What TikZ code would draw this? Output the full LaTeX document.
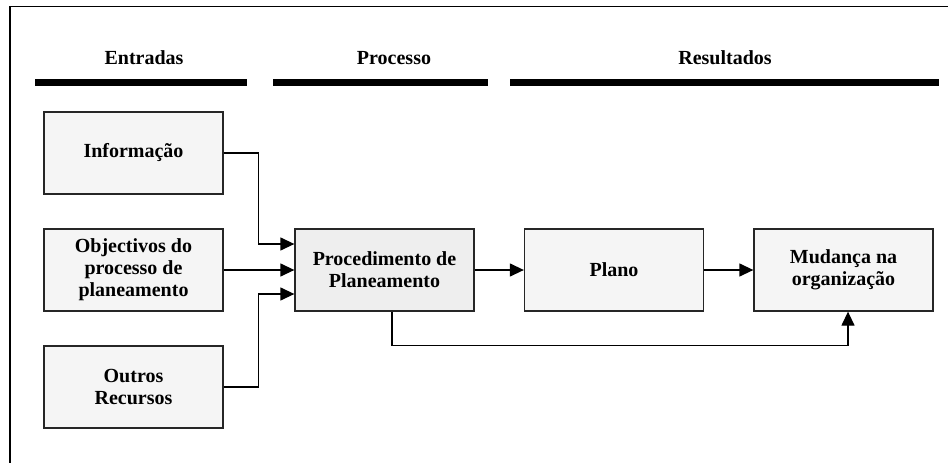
\documentclass[tikz,border=0pt]{standalone}
\usepackage{fontspec}
\setmainfont{Liberation Serif}
\usetikzlibrary{arrows.meta}
\definecolor{boxfill}{HTML}{F5F5F5}
\definecolor{procfill}{HTML}{EEEEEE}
\tikzset{
  stagebox/.style={draw=black!85, line width=1.3pt, fill=boxfill, minimum width=179pt,
    minimum height=82pt, inner sep=0pt, align=center, font=\fontsize{20}{22}\selectfont\bfseries},
  header/.style={font=\fontsize{20}{22}\selectfont\bfseries},
  bar/.style={line width=7pt},
  link/.style={line width=1.3pt, -{Triangle[length=14pt,width=13pt]}},
  frame/.style={line width=1.3pt}
}
\begin{document}
\begin{tikzpicture}[x=1pt,y=-1pt]
\useasboundingbox (0,0) rectangle (948,463);
% open frame: top and left edges
\draw[frame] (948,6.5) -- (10,6.5) -- (10,463);
% column headings and bars
\node[header] (hin) at (144,58) {Entradas};
\node[header] (hproc) at (394,58) {Processo};
\node[header] (hres) at (725,58) {Resultados};
\draw[bar] (35,82) -- (247,82);
\draw[bar] (273,82) -- (488,82);
\draw[bar] (510,82) -- (939,82);
% boxes
\node[stagebox] (info) at (133.5,153) {Informação};
\node[stagebox] (obj) at (133.5,270) {Objectivos do\\processo de\\planeamento};
\node[stagebox] (outros) at (133.5,387) {Outros\\Recursos};
\node[stagebox, fill=procfill] (proc) at (384.5,270) {Procedimento de\\Planeamento};
\node[stagebox] (plano) at (614,270) {Plano};
\node[stagebox] (mud) at (843.5,270) {Mudança na\\organização};
% connectors
\draw[link] (info.east) -- ++(35,0) |- ([yshift=26pt]proc.west);
\draw[link] (obj.east) -- (proc.west);
\draw[link] (outros.east) -- ++(35,0) |- ([yshift=-24pt]proc.west);
\draw[link] (proc.east) -- (plano.west);
\draw[link] (plano.east) -- (mud.west);
\draw[link] ([xshift=7.5pt]proc.south) -- ++(0,34) -| ([xshift=4.5pt]mud.south);
\end{tikzpicture}
\end{document}
